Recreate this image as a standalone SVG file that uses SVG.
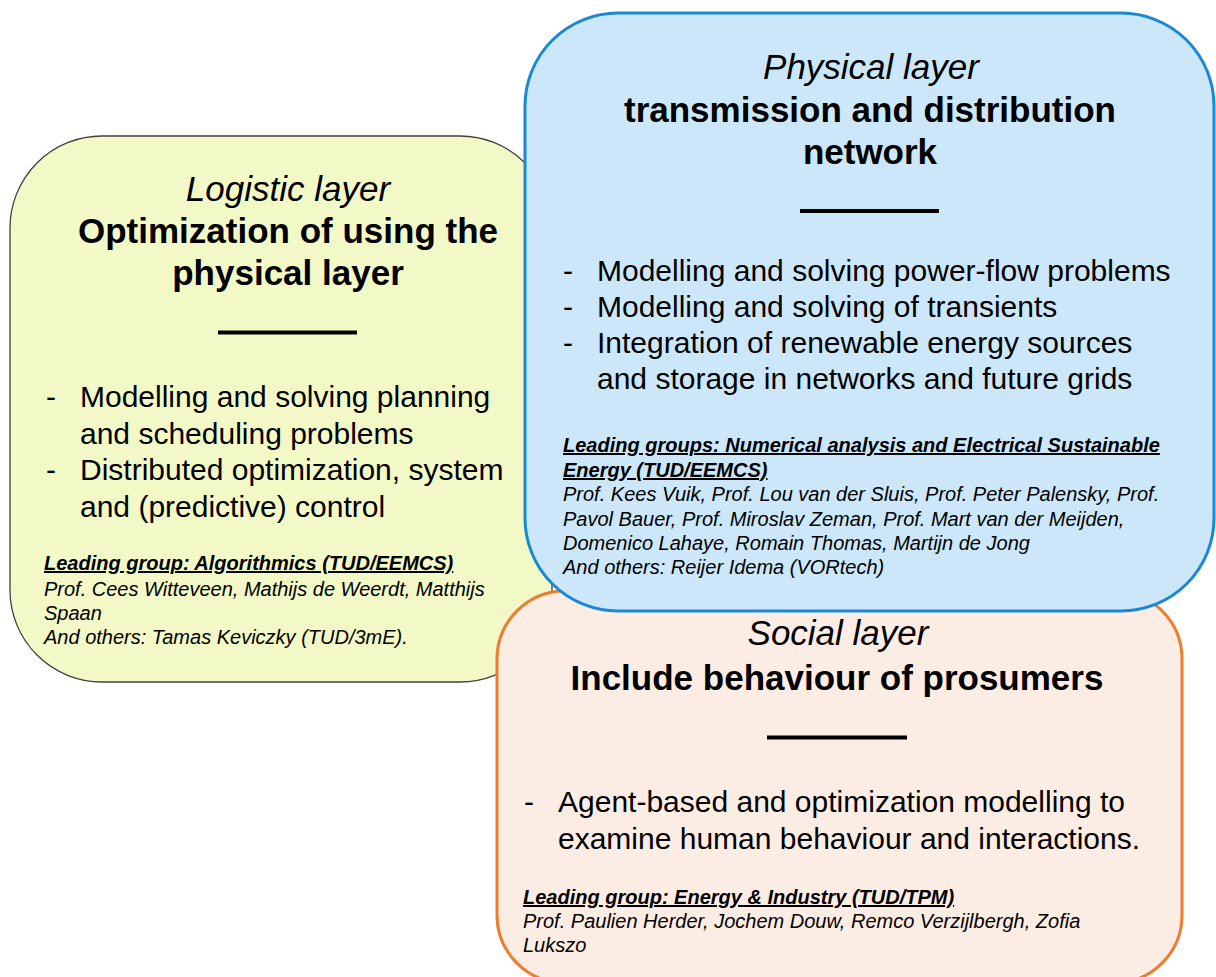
<svg xmlns="http://www.w3.org/2000/svg" width="1216" height="977" viewBox="0 0 1216 977">
<style>
  text { font-family: "Liberation Sans", Arial, sans-serif; fill: #000; }
  .sub { font-size: 35px; font-style: italic; text-anchor: middle; }
  .ttl { font-size: 35px; font-weight: bold; text-anchor: middle; }
  .bul { font-size: 30px; }
  .lead { font-size: 20px; font-weight: bold; font-style: italic; text-decoration: underline; }
  .ppl { font-size: 20px; font-style: italic; }
  .rule { stroke: #000; stroke-width: 4; }
</style>
<rect width="1216" height="977" fill="#ffffff"/>
<g id="logistic">
  <rect x="10" y="136" width="542" height="546" rx="92" ry="92" fill="#f3f9c6" stroke="#404040" stroke-width="1.3"/>
  <text class="sub" x="288" y="201">Logistic layer</text>
  <text class="ttl" x="288" y="243">Optimization of using the</text>
  <text class="ttl" x="288" y="285">physical layer</text>
  <line class="rule" x1="218" y1="332.5" x2="357" y2="332.5"/>
  <text class="bul" x="46" y="407">-</text>
  <text class="bul" x="80" y="407">Modelling and solving planning</text>
  <text class="bul" x="80" y="444">and scheduling problems</text>
  <text class="bul" x="46" y="480">-</text>
  <text class="bul" x="80" y="480">Distributed optimization, system</text>
  <text class="bul" x="80" y="517">and (predictive) control</text>
  <text class="lead" x="44" y="570">Leading group: Algorithmics (TUD/EEMCS)</text>
  <text class="ppl" x="44" y="596">Prof. Cees Witteveen, Mathijs de Weerdt, Matthijs</text>
  <text class="ppl" x="44" y="620">Spaan</text>
  <text class="ppl" x="44" y="644">And others: Tamas Keviczky (TUD/3mE).</text>
</g>
<g id="social">
  <rect x="497" y="591" width="685" height="392" rx="68" ry="68" fill="#fcede4" stroke="#ed7d31" stroke-width="3"/>
  <text class="sub" x="838" y="645">Social layer</text>
  <text class="ttl" x="837" y="690">Include behaviour of prosumers</text>
  <line class="rule" x1="767" y1="737.5" x2="907" y2="737.5"/>
  <text class="bul" x="524" y="812">-</text>
  <text class="bul" x="558" y="812">Agent-based and optimization modelling to</text>
  <text class="bul" x="558" y="849">examine human behaviour and interactions.</text>
  <text class="lead" x="523" y="904">Leading group: Energy &amp; Industry (TUD/TPM)</text>
  <text class="ppl" x="523" y="928">Prof. Paulien Herder, Jochem Douw, Remco Verzijlbergh, Zofia</text>
  <text class="ppl" x="523" y="952">Lukszo</text>
</g>
<g id="physical">
  <rect x="525" y="13" width="689" height="598" rx="93" ry="93" fill="#cce7f9" stroke="#1a88d6" stroke-width="3"/>
  <text class="sub" x="871" y="79">Physical layer</text>
  <text class="ttl" x="870" y="122">transmission and distribution</text>
  <text class="ttl" x="870" y="164">network</text>
  <line class="rule" x1="800" y1="211" x2="939" y2="211"/>
  <text class="bul" x="563" y="281">-</text>
  <text class="bul" x="597" y="281">Modelling and solving power-flow problems</text>
  <text class="bul" x="563" y="317">-</text>
  <text class="bul" x="597" y="317">Modelling and solving of transients</text>
  <text class="bul" x="563" y="353">-</text>
  <text class="bul" x="597" y="353">Integration of renewable energy sources</text>
  <text class="bul" x="597" y="389">and storage in networks and future grids</text>
  <text class="lead" x="563" y="452">Leading groups: Numerical analysis and Electrical Sustainable</text>
  <text class="lead" x="563" y="477">Energy (TUD/EEMCS)</text>
  <text class="ppl" x="563" y="501">Prof. Kees Vuik, Prof. Lou van der Sluis, Prof. Peter Palensky, Prof.</text>
  <text class="ppl" x="563" y="526">Pavol Bauer, Prof. Miroslav Zeman, Prof. Mart van der Meijden,</text>
  <text class="ppl" x="563" y="550">Domenico Lahaye, Romain Thomas, Martijn de Jong</text>
  <text class="ppl" x="563" y="574">And others: Reijer Idema (VORtech)</text>
</g>
<g id="connectors"></g>
</svg>
